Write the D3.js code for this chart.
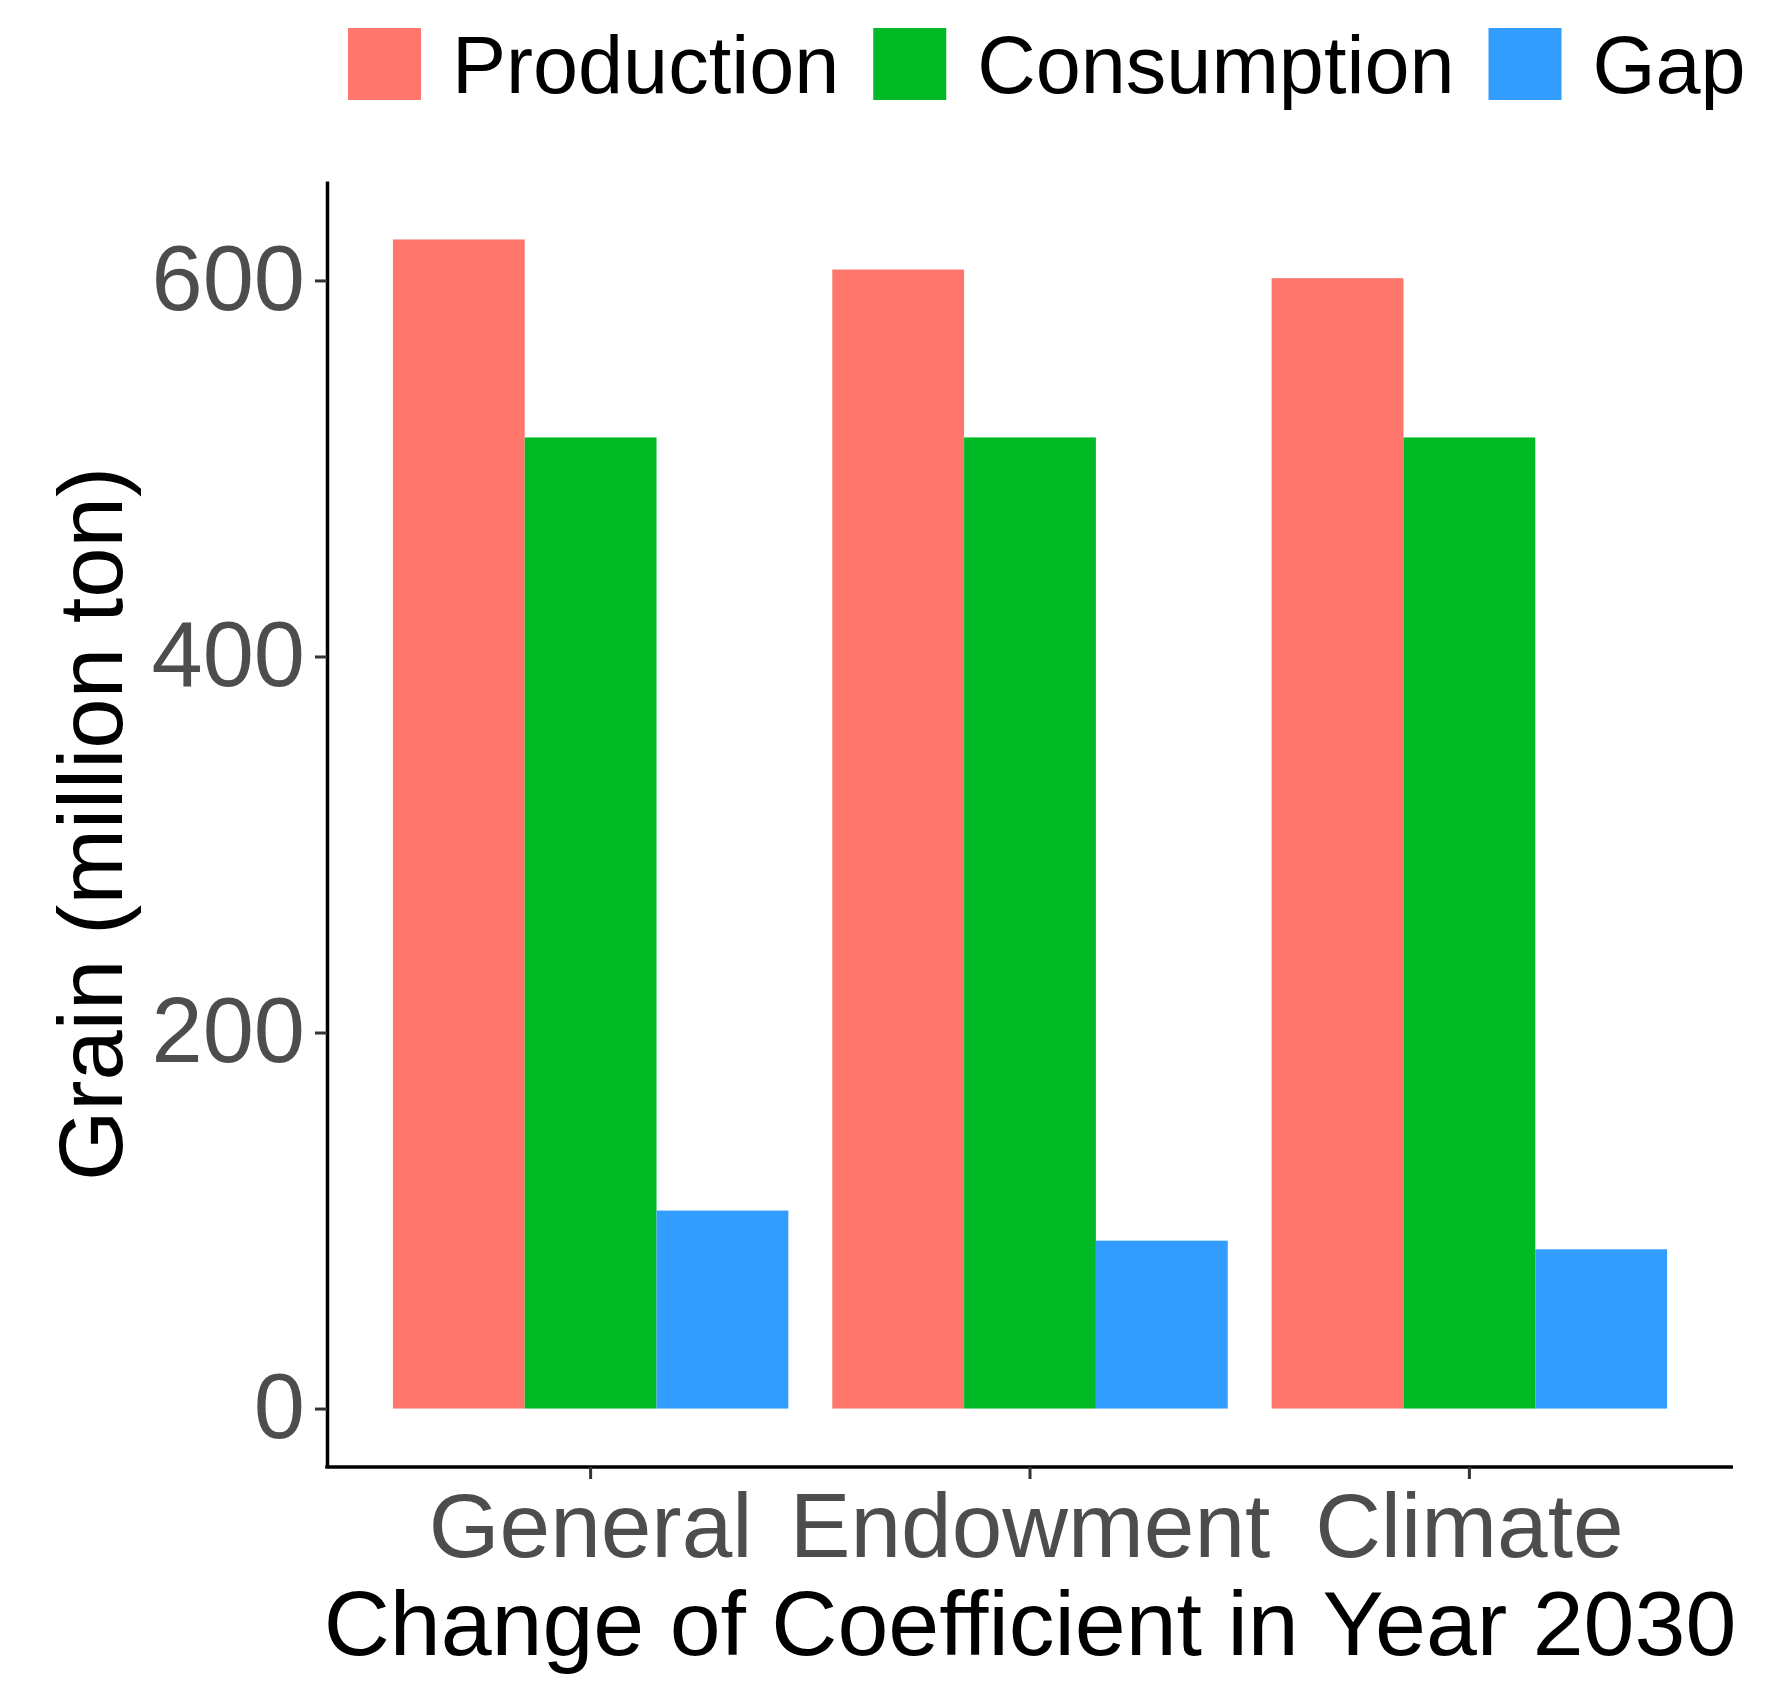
<!DOCTYPE html>
<html>
<head>
<meta charset="utf-8">
<script src="https://cdn.jsdelivr.net/npm/d3@7"></script>
<style>
  html, body { margin: 0; padding: 0; background: #fff; }
  svg { display: block; font-family: "Liberation Sans", Arial, Helvetica, sans-serif; }
</style>
</head>
<body>
<svg id="chart" width="1773" height="1708"></svg>
<script>
// ---- data ----
const categories = ["General", "Endowment", "Climate"];
const seriesNames = ["Production", "Consumption", "Gap"];
const production = [621.8, 605.8, 601.2];
const consumption = [516.5, 516.5, 516.5];
const gap = [105.3, 89.3, 84.7];
const yTickValues = [0, 200, 400, 600];
const xTitle = "Change of Coefficient in Year 2030";
const yTitle = "Grain (million ton)";

const seriesColors = ["#FF776C", "#00BA25", "#339CFF"];

// ---- layout ----
const panel = { left: 327, right: 1733, top: 181, bottom: 1467 };
const svg = d3.select("#chart");

const values = [production, consumption, gap];
const table = categories.map((c, i) => ({
  category: c,
  items: seriesNames.map((s, j) => ({ series: s, value: values[j][i], color: seriesColors[j] }))
}));

const maxV = d3.max(values.flat());
const y = d3.scaleLinear()
  .domain([-0.05 * maxV, 1.05 * maxV])
  .range([panel.bottom, panel.top]);

const x = d3.scaleBand()
  .domain(categories)
  .range([panel.left, panel.right])
  .paddingInner(0.1)
  .paddingOuter(0.15);

const xs = d3.scaleBand()
  .domain(seriesNames)
  .range([0, x.bandwidth()])
  .padding(0);

// ---- bars ----
const groups = svg.append("g").selectAll("g")
  .data(table).join("g")
  .attr("transform", d => `translate(${x(d.category)},0)`);

groups.selectAll("rect")
  .data(d => d.items).join("rect")
  .attr("x", d => xs(d.series))
  .attr("width", xs.bandwidth())
  .attr("y", d => y(d.value))
  .attr("height", d => y(0) - y(d.value))
  .attr("fill", d => d.color);

// ---- axes ----
const yAxis = svg.append("g")
  .attr("transform", `translate(${panel.left},0)`)
  .call(d3.axisLeft(y).tickValues(yTickValues).tickSize(12).tickSizeOuter(0).tickPadding(10).tickFormat(d3.format("d")));
yAxis.select(".domain").attr("stroke", "#000").attr("stroke-width", 3.5);
yAxis.selectAll(".tick line").attr("stroke", "#333").attr("stroke-width", 3);
yAxis.selectAll(".tick text")
  .attr("fill", "#4D4D4D")
  .attr("font-size", 92)
  .attr("font-family", "Liberation Sans, Arial, sans-serif");

const xAxis = svg.append("g")
  .attr("transform", `translate(0,${panel.bottom})`)
  .call(d3.axisBottom(x).tickSize(12).tickSizeOuter(0).tickPadding(0));
xAxis.select(".domain").attr("stroke", "#000").attr("stroke-width", 3.5)
  .attr("d", `M${panel.left - 1.75},0H${panel.right}`);
xAxis.selectAll(".tick line").attr("stroke", "#333").attr("stroke-width", 3);
xAxis.selectAll(".tick text")
  .attr("fill", "#4D4D4D")
  .attr("font-size", 91)
  .attr("font-family", "Liberation Sans, Arial, sans-serif")
  .attr("dy", null)
  .attr("y", 90);

// ---- titles ----
svg.append("text")
  .attr("x", (panel.left + panel.right) / 2)
  .attr("y", 1655)
  .attr("text-anchor", "middle")
  .attr("font-size", 91.5)
  .attr("fill", "#000")
  .text(xTitle);

svg.append("text")
  .attr("transform", `translate(122,${(panel.top + panel.bottom) / 2}) rotate(-90)`)
  .attr("text-anchor", "middle")
  .attr("font-size", 90.5)
  .attr("fill", "#000")
  .text(yTitle);

// ---- legend ----
const legend = svg.append("g");
let lx = 348;
seriesNames.forEach((s, i) => {
  legend.append("rect")
    .attr("x", lx).attr("y", 28)
    .attr("width", 73).attr("height", 72)
    .attr("fill", seriesColors[i]);
  const t = legend.append("text")
    .attr("x", lx + 73 + 31)
    .attr("y", 93)
    .attr("font-size", 81)
    .attr("fill", "#000")
    .text(s);
  lx = lx + 73 + 31 + t.node().getComputedTextLength() + 34;
});
</script>
</body>
</html>
